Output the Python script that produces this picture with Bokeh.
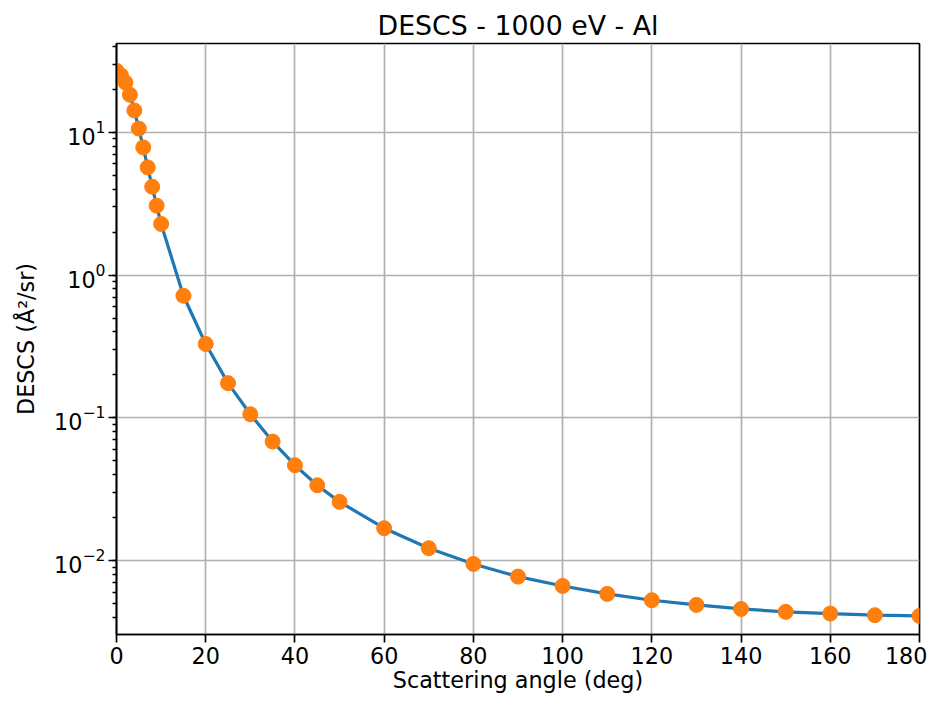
from bokeh.plotting import figure
from bokeh.models import Range1d, FixedTicker, LogTicker
from bokeh.embed import file_html
from bokeh.resources import INLINE

# Data
angles = [0, 1, 2, 3, 4, 5, 6, 7, 8, 9, 10, 15, 20, 25, 30, 35, 40, 45, 50,
          60, 70, 80, 90, 100, 110, 120, 130, 140, 150, 160, 170, 180]
descs = [26.9, 25.0, 22.3, 18.3, 14.2, 10.6, 7.83, 5.67, 4.15, 3.06, 2.28,
         0.716, 0.329, 0.175, 0.106, 0.0682, 0.0466, 0.0337, 0.0258,
         0.01687, 0.01222, 0.00948, 0.00773, 0.00665, 0.00585, 0.00528,
         0.00490, 0.00459, 0.00438, 0.00426, 0.00415, 0.00410]
x_ticks = [0, 20, 40, 60, 80, 100, 120, 140, 160, 180]
x_limits = (0, 180)
y_limits = (0.00304, 41.8)

FONT = "DejaVu Sans"

p = figure(
    output_backend="svg", toolbar_location=None,
    y_axis_type="log",
    frame_width=803, frame_height=591,
    min_border_left=116, min_border_right=8,
    min_border_top=43, min_border_bottom=60,
    x_range=Range1d(*x_limits), y_range=Range1d(*y_limits),
    title="DESCS - 1000 eV - Al",
)

p.title.align = "center"
p.title.text_font = FONT
p.title.text_font_size = "26.8px"
p.title.text_font_style = "normal"
p.title.text_color = "black"
p.title.standoff = 6

p.background_fill_color = "white"
p.border_fill_color = "white"
p.outline_line_color = "black"
p.outline_line_width = 1.7
p.outline_line_alpha = 1.0

# grid
for g in (p.xgrid, p.ygrid):
    g.grid_line_color = "#b0b0b0"
    g.grid_line_width = 1.7
    g.grid_line_alpha = 1.0

p.xaxis.ticker = FixedTicker(ticks=x_ticks)
p.yaxis.ticker = LogTicker(desired_num_ticks=5, num_minor_ticks=10)

for ax in (p.xaxis[0], p.yaxis[0]):
    ax.axis_line_color = "black"
    ax.axis_line_width = 1.7
    ax.major_tick_line_color = "black"
    ax.major_tick_line_width = 1.7
    ax.major_tick_in = 0
    ax.major_tick_out = 8
    ax.minor_tick_line_color = "black"
    ax.minor_tick_line_width = 1.3
    ax.minor_tick_in = 0
    ax.minor_tick_out = 4
    ax.major_label_text_font = FONT
    ax.major_label_text_font_size = "22.3px"
    ax.major_label_text_color = "black"
    ax.axis_label_text_font = FONT
    ax.axis_label_text_font_size = "22.3px"
    ax.axis_label_text_font_style = "normal"
    ax.axis_label_text_color = "black"

p.xaxis.major_label_standoff = 4
p.yaxis.major_label_standoff = 3
p.xaxis.axis_label = "Scattering angle (deg)"
p.yaxis.axis_label = "DESCS (Å²/sr)"
p.xaxis.axis_label_standoff = 0
p.yaxis.axis_label_standoff = 12

p.line(angles, descs, line_color="#1f77b4", line_width=3.2)
p.scatter(angles, descs, size=15, fill_color="#ff7f0e", line_color="#ff7f0e")

open("out.html", "w").write(file_html(p, INLINE))
